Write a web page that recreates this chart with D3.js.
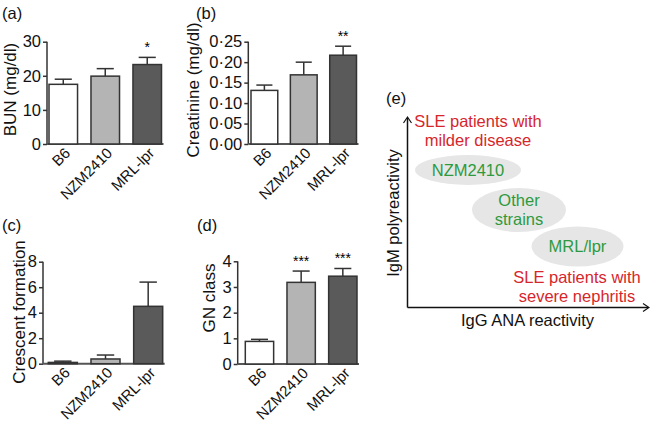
<!DOCTYPE html>
<html><head><meta charset="utf-8">
<script src="https://cdn.jsdelivr.net/npm/d3@7"></script>
<style>body{margin:0;background:#fff}svg{display:block;font-family:"Liberation Sans",Arial,sans-serif}</style>
</head><body><svg id="c" width="650" height="428"></svg>
<script>
const categories = ["B6", "NZM2410", "MRL-lpr"];
const barColors = ["#ffffff", "#b4b4b4", "#5a5a5a"];
const bunMean = [17.5, 19.9, 23.3];
const bunErr = [19.0, 22.1, 25.4];
const bunSig = ["", "", "*"];
const bunTicks = [0, 10, 20, 30];
const creatMean = [0.131, 0.169, 0.217];
const creatErr = [0.144, 0.200, 0.239];
const creatSig = ["", "", "**"];
const creatTicks = [0, 0.05, 0.10, 0.15, 0.20, 0.25];
const crescMean = [0.1, 0.37, 4.5];
const crescErr = [0.2, 0.68, 6.4];
const crescSig = ["", "", ""];
const crescTicks = [0, 2, 4, 6, 8];
const gnMean = [0.88, 3.18, 3.42];
const gnErr = [0.96, 3.62, 3.72];
const gnSig = ["", "***", "***"];
const gnTicks = [0, 1, 2, 3, 4];

const svg = d3.select("#c");
const font = "Liberation Sans, Arial, sans-serif";

function panel(o) {
  const g = svg.append("g");
  const y = d3.scaleLinear().domain(o.domain).range([o.y0, o.y1]);
  const x = d3.scaleBand().domain(categories).range([o.bx0, o.bx1]).paddingInner(0.32).paddingOuter(0);
  const ax = g.append("g").attr("transform", `translate(${o.ax},0)`)
    .call(d3.axisLeft(y).tickValues(o.ticks).tickSize(4).tickPadding(2).tickFormat(o.fmt));
  ax.select(".domain").attr("stroke", "#333").attr("stroke-width", 1.5).attr("d", `M0,${o.y0}V${o.y1}`);
  ax.selectAll(".tick line").attr("stroke", "#333").attr("stroke-width", 1.5);
  ax.selectAll(".tick text").attr("font-size", 16.5).attr("font-family", font).attr("fill", "#111");
  g.append("line").attr("x1", o.ax).attr("x2", o.bx1 + 2).attr("y1", y(0)).attr("y2", y(0))
    .attr("stroke", "#555").attr("stroke-width", 2);
  const n = categories.length;
  for (let i = 0; i < n; i++) {
    const c = categories[i];
    const cx = x(c) + x.bandwidth() / 2;
    g.append("line").attr("x1", cx).attr("x2", cx).attr("y1", y(o.mean[i])).attr("y2", y(o.err[i]))
      .attr("stroke", "#333").attr("stroke-width", 1.5);
    g.append("line").attr("x1", cx - x.bandwidth() * 0.3).attr("x2", cx + x.bandwidth() * 0.3)
      .attr("y1", y(o.err[i])).attr("y2", y(o.err[i])).attr("stroke", "#333").attr("stroke-width", 1.5);
    g.append("rect").attr("x", x(c)).attr("width", x.bandwidth())
      .attr("y", y(o.mean[i])).attr("height", y(0) - y(o.mean[i]))
      .attr("fill", barColors[i]).attr("stroke", "#333").attr("stroke-width", 1.5);
    if (o.sig[i]) g.append("text").attr("x", cx).attr("y", y(o.err[i]) - 5).attr("text-anchor", "middle")
      .attr("font-size", 14).attr("font-family", font).text(o.sig[i]);
    g.append("text").attr("text-anchor", "end").attr("font-size", 15).attr("font-family", font).attr("fill", "#111")
      .attr("transform", `translate(${cx + 8},${y(0) + 10}) rotate(-45)`).text(c);
  }
  g.append("text").attr("transform", `translate(${o.lx},${o.ly}) rotate(-90)`).attr("text-anchor", "middle")
    .attr("font-size", 17).attr("font-family", font).attr("fill", "#111").text(o.title);
  g.append("text").attr("x", o.px).attr("y", o.py).attr("font-size", 16.5).attr("font-family", font).attr("fill", "#111").text(o.tag);
}
const dot = f => v => d3.format(f)(v).replace(".", "\u00b7");

panel({domain:[0,30], ticks:bunTicks, fmt:d3.format("d"), y0:144, y1:41.7, ax:47, bx0:49, bx1:161.5,
  mean:bunMean, err:bunErr, sig:bunSig, title:"BUN (mg/dl)", lx:16, ly:89.5, tag:"(a)", px:2, py:19});
panel({domain:[0,0.25], ticks:creatTicks, fmt:dot(".2f"), y0:144, y1:41.7, ax:248.3, bx0:251, bx1:356.5,
  mean:creatMean, err:creatErr, sig:creatSig, title:"Creatinine (mg/dl)", lx:199, ly:90, tag:"(b)", px:196, py:19});
panel({domain:[0,8], ticks:crescTicks, fmt:d3.format("d"), y0:363.7, y1:261.7, ax:43, bx0:48.3, bx1:162.7,
  mean:crescMean, err:crescErr, sig:crescSig, title:"Crescent formation", lx:25, ly:312, tag:"(c)", px:2, py:231});
panel({domain:[0,4], ticks:gnTicks, fmt:d3.format("d"), y0:364, y1:261.3, ax:237.7, bx0:245.3, bx1:357,
  mean:gnMean, err:gnErr, sig:gnSig, title:"GN class", lx:215, ly:298, tag:"(d)", px:197, py:231});

// Panel (e) schematic
const eEllipses = [
  {label:["NZM2410"], cx:468, cy:170, rx:53, ry:15},
  {label:["Other","strains"], cx:519, cy:210, rx:47, ry:22},
  {label:["MRL/lpr"], cx:577.5, cy:246.5, rx:46, ry:20}
];
const eRed = [
  {lines:["SLE patients with","milder disease"], x:478, y:127},
  {lines:["SLE patients with","severe nephritis"], x:577, y:283}
];
const ge = svg.append("g");
ge.append("text").attr("x", 386).attr("y", 104).attr("font-size", 16.5).attr("font-family", font).attr("fill", "#111").text("(e)");
const ox = 407.5, oy = 307.5;
ge.append("path").attr("d", `M${ox},${oy}V118M${ox},${oy}H648`).attr("stroke", "#111").attr("stroke-width", 1.5).attr("fill", "none");
ge.append("path").attr("d", `M${ox-4},123L${ox},117L${ox+4},123M643,${oy-4}L649,${oy}L643,${oy+4}`).attr("stroke", "#111").attr("stroke-width", 1.2).attr("fill", "none");
eEllipses.forEach(e => {
  ge.append("ellipse").attr("cx", e.cx).attr("cy", e.cy).attr("rx", e.rx).attr("ry", e.ry).attr("fill", "#e6e6e6");
  const t = ge.append("text").attr("text-anchor", "middle").attr("font-size", 16.5).attr("font-family", font).attr("fill", "#2e9a3e");
  const n = e.label.length;
  e.label.forEach((l, i) => t.append("tspan").attr("x", e.cx).attr("y", e.cy + 5.5 + (i - (n - 1) / 2) * 19).text(l));
});
eRed.forEach(r => {
  const t = ge.append("text").attr("text-anchor", "middle").attr("font-size", 16.5).attr("font-family", font).attr("fill", "#d7262b");
  r.lines.forEach((l, i) => t.append("tspan").attr("x", r.x).attr("y", r.y + i * 19).text(l));
});
ge.append("text").attr("x", 527.5).attr("y", 326).attr("text-anchor", "middle").attr("font-size", 16.5).attr("font-family", font).attr("fill", "#111").text("IgG ANA reactivity");
ge.append("text").attr("transform", "translate(399,213) rotate(-90)").attr("text-anchor", "middle").attr("font-size", 16.5).attr("font-family", font).attr("fill", "#111").text("IgM polyreactivity");
</script></body></html>
